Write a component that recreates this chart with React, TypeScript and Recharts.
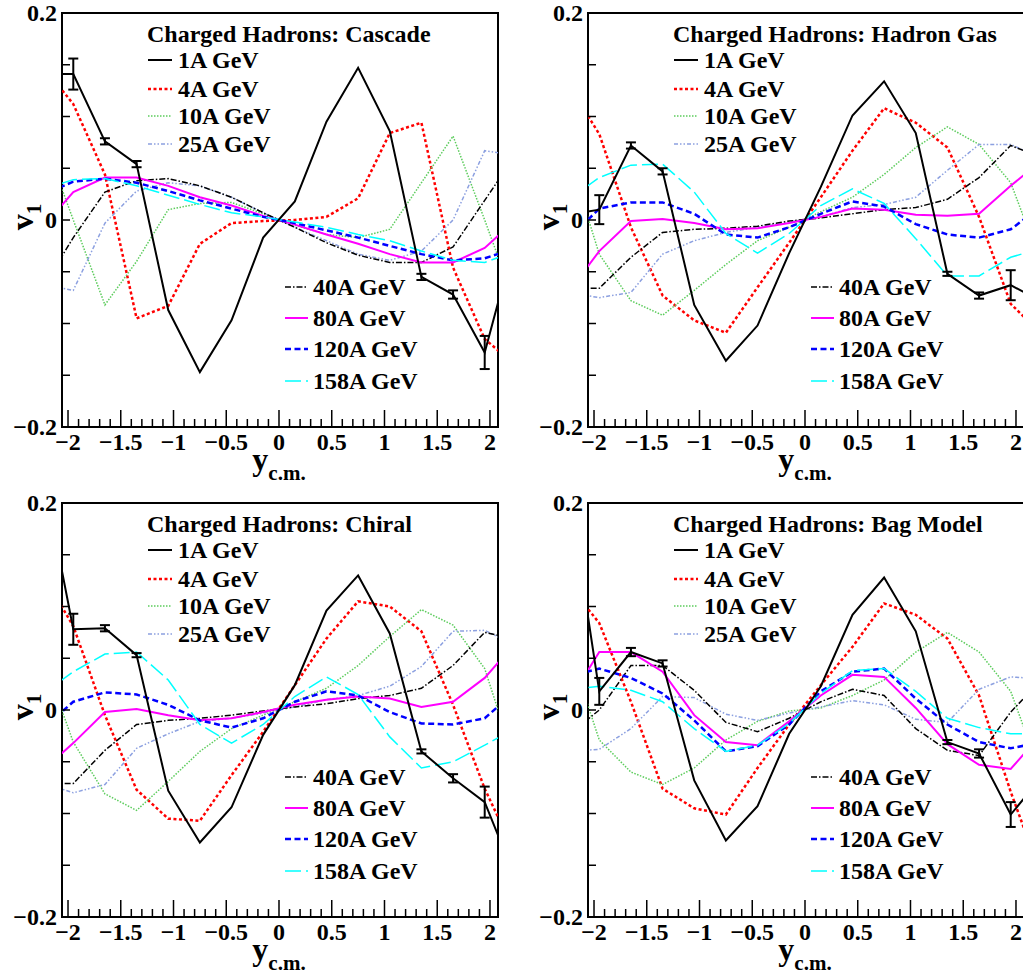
import { LineChart, Line, XAxis, YAxis, ReferenceArea, ErrorBar } from "recharts";

const FONT = '"Liberation Serif", "Times New Roman", serif';

// rapidity points (outer ones run past the frame and get clipped)
const xs = [-2.25, -1.95, -1.65, -1.35, -1.05, -0.75, -0.45, -0.15, 0.15, 0.45, 0.75, 1.05, 1.35, 1.65, 1.95, 2.25];

const energyLabels = ["1A GeV", "4A GeV", "10A GeV", "25A GeV", "40A GeV", "80A GeV", "120A GeV", "158A GeV"];

const xMajorTicks = [-2, -1.5, -1, -0.5, 0, 0.5, 1, 1.5, 2];
const xMajorLabels = ["−2", "−1.5", "−1", "−0.5", "0", "0.5", "1", "1.5", "2"];
const yTicks = [-0.2, -0.15, -0.1, -0.05, 0, 0.05, 0.1, 0.15, 0.2];
const yTickLabels = ["−0.2", "", "", "", "0", "", "", "", "0.2"];

// Cascade
const cascade1 = [0.141, 0.141, 0.076, 0.054, -0.087, -0.147, -0.097, -0.017, 0.018, 0.095, 0.147, 0.086, -0.055, -0.072, -0.128, -0.014];
const cascade4 = [0.15, 0.112, 0.044, -0.095, -0.083, -0.023, -0.003, -0.001, 0.0, 0.003, 0.021, 0.084, 0.094, -0.046, -0.115, -0.141];
const cascade10 = [0.084, 0.0, -0.082, -0.04, 0.01, 0.016, 0.017, 0.006, -0.005, -0.014, -0.017, -0.009, 0.036, 0.081, 0.0, -0.084];
const cascade25 = [-0.062, -0.068, -0.003, 0.028, 0.036, 0.033, 0.022, 0.007, -0.007, -0.02, -0.033, -0.039, -0.03, 0.0, 0.067, 0.062];
const cascade40 = [-0.067, -0.017, 0.027, 0.038, 0.04, 0.033, 0.022, 0.007, -0.007, -0.022, -0.034, -0.041, -0.041, -0.026, 0.019, 0.064];
const cascade80 = [-0.008, 0.027, 0.041, 0.041, 0.033, 0.022, 0.014, 0.004, -0.0045, -0.014, -0.023, -0.033, -0.041, -0.041, -0.027, 0.001];
const cascade120 = [0.024, 0.037, 0.04, 0.036, 0.028, 0.019, 0.011, 0.003, -0.003, -0.01, -0.017, -0.025, -0.033, -0.039, -0.037, -0.027];
const cascade158 = [0.029, 0.039, 0.04, 0.033, 0.024, 0.015, 0.007, 0.003, -0.002, -0.007, -0.014, -0.02, -0.03, -0.039, -0.041, -0.03];
const cascadeErr = [null, 0.015, 0.003, 0.003, null, null, null, null, null, null, null, null, 0.003, 0.004, 0.016, null];

// Hadron Gas
const gas1 = [0.005, 0.01, 0.072, 0.047, -0.082, -0.136, -0.102, -0.032, 0.032, 0.101, 0.134, 0.084, -0.052, -0.073, -0.063, -0.079];
const gas4 = [0.132, 0.083, -0.007, -0.073, -0.097, -0.109, -0.065, -0.022, 0.022, 0.067, 0.108, 0.094, 0.07, 0.003, -0.081, -0.111];
const gas10 = [0.065, -0.033, -0.078, -0.092, -0.068, -0.043, -0.02, -0.007, 0.008, 0.022, 0.044, 0.07, 0.09, 0.073, 0.036, -0.045];
const gas25 = [-0.07, -0.075, -0.07, -0.033, -0.02, -0.012, -0.007, -0.002, 0.003, 0.012, 0.015, 0.022, 0.048, 0.073, 0.073, 0.059];
const gas40 = [-0.066, -0.066, -0.036, -0.012, -0.009, -0.008, -0.006, -0.001, 0.002, 0.006, 0.01, 0.012, 0.02, 0.041, 0.072, 0.06];
const gas80 = [-0.071, -0.03, -0.001, 0.001, -0.003, -0.009, -0.008, -0.003, 0.003, 0.011, 0.01, 0.005, 0.004, 0.006, 0.033, 0.058];
const gas120 = [-0.019, 0.011, 0.017, 0.017, 0.006, -0.014, -0.017, -0.007, 0.006, 0.018, 0.013, -0.004, -0.014, -0.017, -0.009, 0.014];
const gas158 = [0.019, 0.041, 0.053, 0.054, 0.027, -0.013, -0.032, -0.013, 0.014, 0.03, 0.016, -0.018, -0.054, -0.054, -0.036, -0.027];
const gasErr = [null, 0.014, 0.003, 0.003, null, null, null, null, null, null, null, null, 0.002, 0.003, 0.0145, null];

// Chiral
const chiral1 = [0.235, 0.078, 0.079, 0.053, -0.078, -0.128, -0.094, -0.024, 0.024, 0.096, 0.13, 0.074, -0.04, -0.066, -0.089, -0.165];
const chiral4 = [0.133, 0.081, -0.005, -0.077, -0.105, -0.107, -0.063, -0.021, 0.024, 0.069, 0.105, 0.1, 0.076, 0.005, -0.076, -0.141];
const chiral10 = [0.054, -0.031, -0.081, -0.097, -0.069, -0.04, -0.018, -0.005, 0.008, 0.021, 0.043, 0.071, 0.097, 0.082, 0.04, -0.055];
const chiral25 = [-0.07, -0.08, -0.072, -0.037, -0.023, -0.011, -0.008, -0.003, 0.003, 0.01, 0.014, 0.023, 0.042, 0.076, 0.077, 0.062];
const chiral40 = [-0.071, -0.071, -0.039, -0.014, -0.01, -0.008, -0.005, -0.001, 0.003, 0.006, 0.011, 0.014, 0.021, 0.043, 0.075, 0.068];
const chiral80 = [-0.059, -0.032, -0.002, 0.001, -0.005, -0.01, -0.008, -0.002, 0.005, 0.01, 0.013, 0.011, 0.003, 0.008, 0.031, 0.066];
const chiral120 = [-0.019, 0.008, 0.017, 0.015, 0.005, -0.01, -0.017, -0.008, 0.008, 0.018, 0.014, -0.002, -0.013, -0.014, -0.008, 0.019];
const chiral158 = [0.015, 0.037, 0.054, 0.056, 0.029, -0.014, -0.032, -0.014, 0.013, 0.032, 0.015, -0.026, -0.056, -0.05, -0.034, -0.017];
const chiralErr = [null, 0.015, 0.003, 0.002, null, null, null, null, null, null, null, null, 0.002, 0.004, 0.015, null];

// Bag Model
const bag1 = [0.22, 0.018, 0.056, 0.045, -0.068, -0.126, -0.093, -0.023, 0.023, 0.092, 0.128, 0.076, -0.031, -0.042, -0.101, -0.064];
const bag4 = [0.122, 0.084, 0.008, -0.076, -0.095, -0.101, -0.056, -0.014, 0.024, 0.061, 0.103, 0.092, 0.069, 0.014, -0.079, -0.163];
const bag10 = [0.064, -0.029, -0.06, -0.072, -0.056, -0.029, -0.011, -0.001, 0.002, 0.014, 0.029, 0.056, 0.075, 0.056, 0.018, -0.066];
const bag25 = [-0.04, -0.038, -0.018, 0.013, 0.012, -0.004, -0.01, -0.003, 0.003, 0.009, 0.005, -0.009, -0.012, 0.02, 0.032, 0.03];
const bag40 = [-0.025, 0.0, 0.043, 0.043, 0.019, -0.012, -0.021, -0.008, 0.008, 0.02, 0.014, -0.018, -0.039, -0.044, -0.002, 0.03];
const bag80 = [0.007, 0.056, 0.056, 0.037, -0.005, -0.031, -0.034, -0.011, 0.014, 0.034, 0.032, 0.002, -0.033, -0.053, -0.057, -0.022];
const bag120 = [0.032, 0.04, 0.031, 0.016, -0.01, -0.04, -0.035, -0.014, 0.018, 0.037, 0.04, 0.011, -0.014, -0.031, -0.037, -0.031];
const bag158 = [0.019, 0.023, 0.019, 0.008, -0.018, -0.04, -0.034, -0.013, 0.016, 0.038, 0.04, 0.018, -0.008, -0.017, -0.023, -0.023];
const bagErr = [null, 0.013, 0.004, 0.003, null, null, null, null, null, null, null, null, 0.002, 0.004, 0.012, null];

const styles = [
  { color: "#000000", width: 2, dash: undefined },
  { color: "#ff0000", width: 2.5, dash: "3 2.5" },
  { color: "#5ccc5c", width: 1.5, dash: "1.5 1.5" },
  { color: "#8ca0e0", width: 1.5, dash: "4 2 1.5 2 1.5 2" },
  { color: "#000000", width: 1.5, dash: "6 2 1.5 2" },
  { color: "#ff00ff", width: 2, dash: undefined },
  { color: "#0000ff", width: 2.5, dash: "6 3.5" },
  { color: "#00ffff", width: 1.5, dash: "16 5" },
];

const panels = [
  { title: "Charged Hadrons: Cascade", left: 0, top: 0, series: [cascade1, cascade4, cascade10, cascade25, cascade40, cascade80, cascade120, cascade158], err: cascadeErr },
  { title: "Charged Hadrons: Hadron Gas", left: 526, top: 0, series: [gas1, gas4, gas10, gas25, gas40, gas80, gas120, gas158], err: gasErr },
  { title: "Charged Hadrons: Chiral", left: 0, top: 490, series: [chiral1, chiral4, chiral10, chiral25, chiral40, chiral80, chiral120, chiral158], err: chiralErr },
  { title: "Charged Hadrons: Bag Model", left: 526, top: 490, series: [bag1, bag4, bag10, bag25, bag40, bag80, bag120, bag158], err: bagErr },
];

const xMinorTicks = Array.from({ length: 41 }, (_, i) => Math.round((-2 + i * 0.1) * 10) / 10);

const W = 526;
const H = 490;
const M = { top: 13, right: 28, bottom: 33, left: 22 };
const PL = 62; // plot left inside panel
const PT = 13; // plot top inside panel
const FS = 24;

function XTick(props: any) {
  const { x, y, payload } = props;
  const v = payload.value;
  const idx = xMajorTicks.findIndex((t) => Math.abs(t - v) < 1e-6);
  const major = idx >= 0;
  return (
    <g>
      <line x1={x} x2={x} y1={y} y2={y - (major ? 17 : 8)} stroke="#000" strokeWidth={1.5} />
      {major && (
        <text x={x} y={y + 23} textAnchor="middle" fontFamily={FONT} fontWeight="bold" fontSize={FS} fill="#000">
          {xMajorLabels[idx]}
        </text>
      )}
    </g>
  );
}

function YTick(props: any) {
  const { x, y, payload } = props;
  const idx = yTicks.findIndex((t) => Math.abs(t - payload.value) < 1e-6);
  const label = idx >= 0 ? yTickLabels[idx] : "";
  return (
    <g>
      <line x1={x} x2={x + 8} y1={y} y2={y} stroke="#000" strokeWidth={1.5} />
      {label && (
        <text x={x - 5} y={y + 8} textAnchor="end" fontFamily={FONT} fontWeight="bold" fontSize={FS} fill="#000">
          {label}
        </text>
      )}
    </g>
  );
}

const topRows = [55, 84, 111, 139];
const bottomRows = [282, 313, 344, 376];

function Overlay({ title }: { title: string }) {
  const txt = { fontFamily: FONT, fontWeight: "bold" as const, fontSize: FS, fill: "#000" };
  return (
    <svg width={W} height={H} style={{ position: "absolute", left: 0, top: 0, pointerEvents: "none" }}>
      <text x={PL + 85} y={PT + 29} {...txt}>{title}</text>
      {topRows.map((b, i) => (
        <g key={i}>
          <line x1={PL + 86} x2={PL + 110} y1={PT + b - 8} y2={PT + b - 8} stroke={styles[i].color} strokeWidth={styles[i].width} strokeDasharray={styles[i].dash} />
          <text x={PL + 116} y={PT + b} {...txt}>{energyLabels[i]}</text>
        </g>
      ))}
      {bottomRows.map((b, i) => (
        <g key={i}>
          <line x1={PL + 223} x2={PL + 246} y1={PT + b - 8} y2={PT + b - 8} stroke={styles[i + 4].color} strokeWidth={styles[i + 4].width} strokeDasharray={styles[i + 4].dash} />
          <text x={PL + 251} y={PT + b} {...txt}>{energyLabels[i + 4]}</text>
        </g>
      ))}
      <text transform="translate(33,217) rotate(-90)" textAnchor="middle" fontFamily={FONT} fontWeight="bold" fontSize={32} fill="#000">
        v<tspan fontSize={21} dy={8}>1</tspan>
      </text>
      <text x={279} y={470} textAnchor="middle" fontFamily={FONT} fontWeight="bold" fontSize={32} fill="#000">
        y<tspan fontSize={21} dy={10}>c.m.</tspan>
      </text>
    </svg>
  );
}

function Panel({ p }: { p: (typeof panels)[number] }) {
  const rows = xs.map((x, i) => {
    const r: any = { x, err: p.err[i] };
    p.series.forEach((s, j) => {
      r["s" + j] = s[i];
    });
    return r;
  });
  const order = [1, 2, 3, 4, 5, 6, 7, 0];
  return (
    <div style={{ position: "absolute", left: p.left, top: p.top, width: W, height: H }}>
      <LineChart width={W} height={H} data={rows} margin={M}>
        <XAxis dataKey="x" type="number" domain={[-2.057, 2.076]} allowDataOverflow ticks={xMinorTicks} interval={0}
          axisLine={false} tickLine={false} tickSize={0} tickMargin={0} height={30} tick={<XTick />} />
        <YAxis type="number" domain={[-0.2, 0.2]} allowDataOverflow ticks={yTicks} interval={0}
          axisLine={false} tickLine={false} tickSize={0} tickMargin={0} width={40} tick={<YTick />} />
        {order.map((j) => (
          <Line key={j} dataKey={"s" + j} type="linear" stroke={styles[j].color} strokeWidth={styles[j].width}
            strokeDasharray={styles[j].dash} dot={false} activeDot={false} isAnimationActive={false}>
            {j === 0 && <ErrorBar dataKey="err" direction="y" width={5} stroke="#000" strokeWidth={2} />}
          </Line>
        ))}
        <ReferenceArea x1={-2.057} x2={2.076} y1={-0.2} y2={0.2} fill="none" fillOpacity={0} stroke="#000" strokeWidth={2} />
      </LineChart>
      <Overlay title={p.title} />
    </div>
  );
}

export default function App() {
  return (
    <div style={{ position: "absolute", left: 0, top: 0, width: 1023, height: 979, overflow: "hidden", background: "#fff" }}>
      {panels.map((p) => (
        <Panel key={p.title} p={p} />
      ))}
    </div>
  );
}
